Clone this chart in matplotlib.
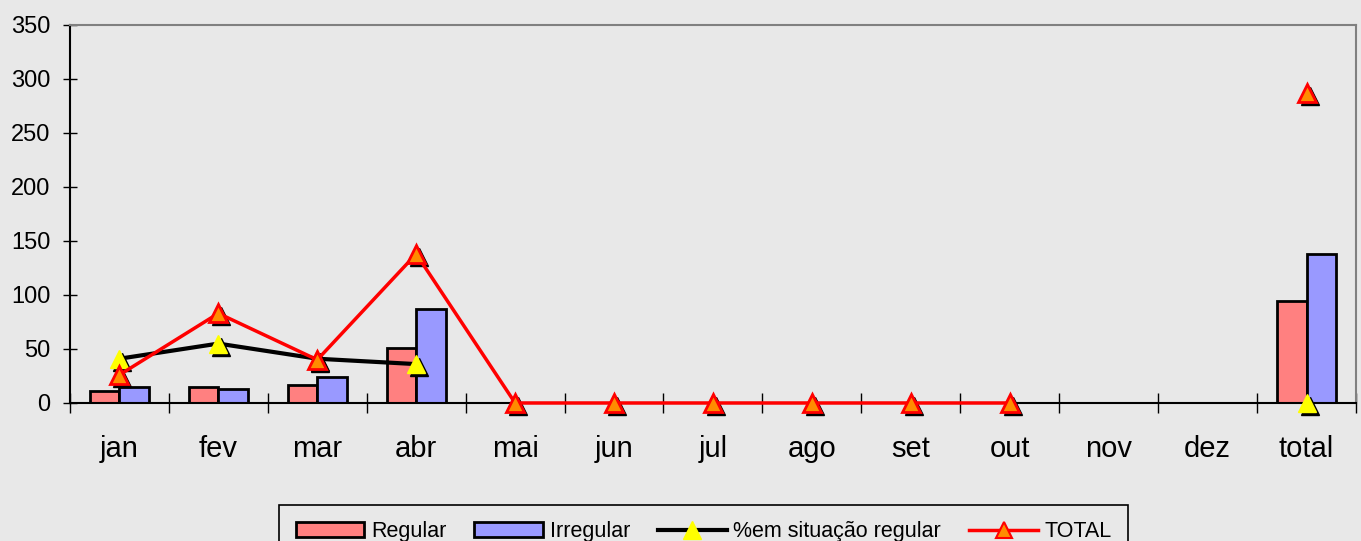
import numpy as np
import matplotlib.pyplot as plt
import matplotlib.transforms as mtransforms
from matplotlib.lines import Line2D
from matplotlib.patches import Patch

plt.rcParams["font.family"] = ["Liberation Sans", "DejaVu Sans"]

months = ["jan", "fev", "mar", "abr", "mai", "jun", "jul", "ago", "set", "out",
          "nov", "dez", "total"]
nan = np.nan
regular = [11, 15, 17, 51, nan, nan, nan, nan, nan, nan, nan, nan, 94]
irregular = [15, 13, 24, 87, nan, nan, nan, nan, nan, nan, nan, nan, 138]
pct_regular = [41, 55, 41, 36, nan, nan, nan, nan, nan, nan, nan, nan, 0]
total = [26, 83, 40, 138, 0, 0, 0, 0, 0, 0, nan, nan, 287]

bg = "#e8e8e8"
c_reg = "#ff8080"
c_irr = "#9999ff"

fig = plt.figure(figsize=(13.61, 5.41), dpi=100, facecolor=bg)
ax = fig.add_axes([0.0514, 0.2551, 0.9449, 0.6987], facecolor=bg)

x = np.arange(len(months))
w = 0.3
ax.bar(x - w / 2, regular, w, color=c_reg, edgecolor="black", linewidth=2, zorder=2)
ax.bar(x + w / 2, irregular, w, color=c_irr, edgecolor="black", linewidth=2, zorder=2)

# marker shadows, shifted down-right
shadow = mtransforms.offset_copy(ax.transData, fig=fig, x=3, y=-3, units="dots")
ax.plot(x, pct_regular, ls="none", marker="^", ms=13, color="black",
        transform=shadow, zorder=3, clip_on=False)
ax.plot(x, pct_regular, color="black", lw=3, marker="^", ms=13,
        mfc="#ffff00", mec="#ffff00", zorder=4, clip_on=False)
ax.plot(x, total, ls="none", marker="^", ms=13, color="black",
        transform=shadow, zorder=5, clip_on=False)
ax.plot(x, total, color="#ff0000", lw=2.5, marker="^", ms=13,
        mfc="#ff8c00", mec="#ff0000", mew=2, zorder=6, clip_on=False)

ax.set_xlim(-0.5, len(months) - 0.5)
ax.set_ylim(0, 350)
ax.set_yticks(range(0, 351, 50))
ax.set_xticks(x)
ax.set_xticklabels(months, fontsize=21)
ax.set_xticks(np.arange(-0.5, len(months), 1.0), minor=True)
ax.tick_params(axis="x", which="major", length=0, pad=23)
ax.tick_params(axis="x", which="minor", direction="inout", length=14, width=1)
ax.tick_params(axis="y", direction="inout", length=10, width=1, labelsize=17, pad=9)

for side in ["top", "right"]:
    ax.spines[side].set_color("#808080")
    ax.spines[side].set_linewidth(1.5)
for side in ["left", "bottom"]:
    ax.spines[side].set_linewidth(1.5)

handles = [
    Patch(facecolor=c_reg, edgecolor="black", linewidth=2, label="Regular"),
    Patch(facecolor=c_irr, edgecolor="black", linewidth=2, label="Irregular"),
    Line2D([], [], color="black", lw=3, marker="^", ms=13, mfc="#ffff00",
           mec="#ffff00", label="%em situação regular"),
    Line2D([], [], color="#ff0000", lw=2.5, marker="^", ms=11, mfc="#ff8c00",
           mec="#ff0000", mew=1.5, label="TOTAL"),
]
leg = fig.legend(handles=handles, loc="upper center", bbox_to_anchor=(0.517, 0.0665),
                 ncol=4, fontsize=15.5, frameon=True, fancybox=False, facecolor=bg,
                 edgecolor="black", framealpha=1, handlelength=3.2, handletextpad=0.3,
                 columnspacing=1.3, borderpad=0.75, borderaxespad=0)
leg.get_frame().set_linewidth(1.2)

fig.savefig("out.png", dpi=100, facecolor=bg)
